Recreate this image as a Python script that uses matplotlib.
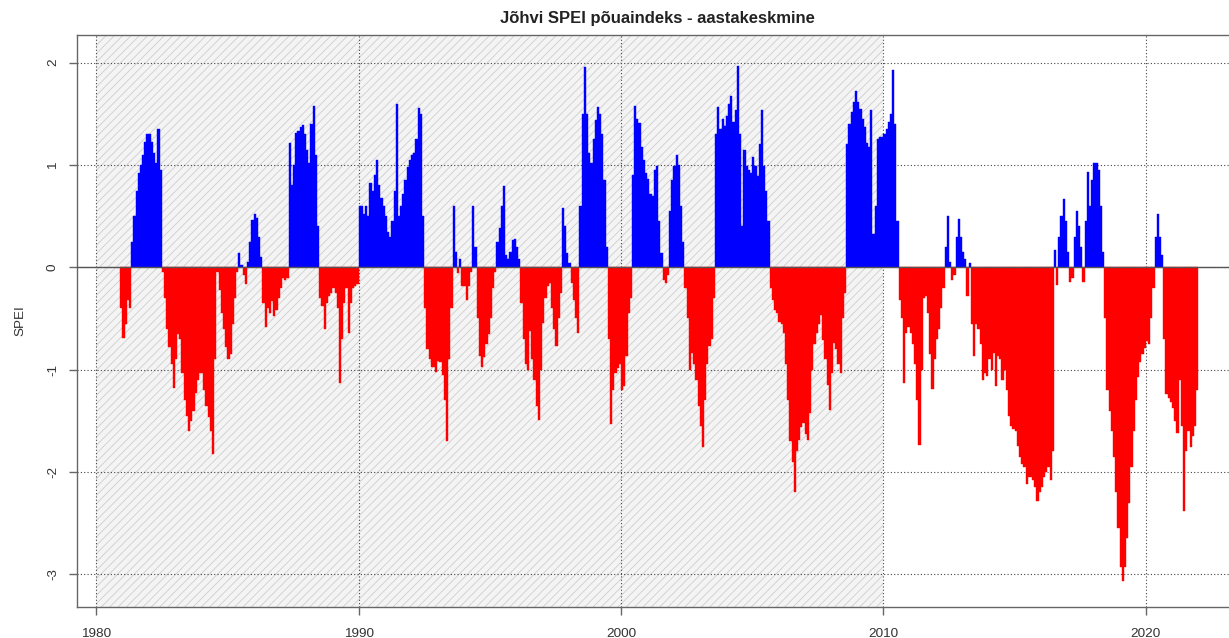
import numpy as np
import matplotlib
matplotlib.use("Agg")
import matplotlib.pyplot as plt

# ---- data (monthly 12-month SPEI, first value = Dec 1980) ----
start_year = 1980 + 11 / 12
spei_1980s = [
    -0.40,
    -0.69, -0.55, -0.32, -0.40, 0.25, 0.50, 0.75, 0.92, 1.00, 1.10, 1.22, 1.30,
    1.30, 1.22, 1.12, 1.02, 1.35, 0.95, -0.05, -0.30, -0.60, -0.78, -0.95, -1.18,
    -0.90, -0.65, -0.70, -1.03, -1.30, -1.45, -1.60, -1.50, -1.40, -1.23, -1.10, -1.03,
    -1.03, -1.20, -1.36, -1.46, -1.60, -1.82, -0.90, -0.05, -0.22, -0.45, -0.60, -0.78,
    -0.90, -0.85, -0.55, -0.30, -0.05, 0.14, 0.02, -0.08, -0.16, 0.05, 0.25, 0.46,
    0.52, 0.48, 0.30, 0.10, -0.35, -0.58, -0.40, -0.45, -0.33, -0.48, -0.42, -0.30,
    -0.20, -0.10, -0.12, -0.10, 1.21, 0.80, 1.00, 1.31, 1.33, 1.37, 1.39, 1.30,
    1.15, 1.02, 1.40, 1.58, 1.10, 0.40, -0.30, -0.38, -0.60, -0.35, -0.28, -0.25,
    -0.20, -0.25, -0.40, -1.13, -0.70, -0.35, -0.20, -0.64, -0.35, -0.20, -0.18, -0.16,
]
spei_1990s = [
    0.60, 0.60, 0.52, 0.60, 0.50, 0.82, 0.75, 0.90, 1.05, 0.80, 0.68, 0.60,
    0.50, 0.34, 0.30, 0.45, 0.75, 1.60, 0.50, 0.60, 0.72, 0.85, 0.98, 1.05,
    1.10, 1.12, 1.25, 1.56, 1.50, 0.50, -0.40, -0.80, -0.90, -0.97, -0.97, -1.02,
    -0.92, -0.93, -1.05, -1.30, -1.70, -0.90, -0.40, 0.60, 0.15, -0.06, 0.08, -0.18,
    -0.18, -0.32, -0.18, -0.05, 0.60, 0.20, -0.50, -0.87, -0.97, -0.88, -0.75, -0.65,
    -0.50, -0.20, -0.05, 0.25, 0.38, 0.60, 0.79, 0.12, 0.08, 0.15, 0.27, 0.28,
    0.20, 0.08, -0.35, -0.70, -0.95, -1.00, -0.62, -0.90, -1.10, -1.36, -1.49, -1.00,
    -0.54, -0.30, -0.18, -0.15, -0.40, -0.60, -0.77, -0.50, -0.25, 0.58, 0.40, 0.14,
    0.04, -0.15, -0.32, -0.50, -0.64, 0.60, 1.50, 1.96, 1.50, 1.12, 1.02, 1.25,
    1.44, 1.57, 1.50, 1.30, 0.85, 0.20, -0.70, -1.53, -1.20, -1.03, -0.98, -0.95,
]
spei_2000s = [
    -1.20, -1.16, -0.87, -0.45, -0.30, 0.90, 1.58, 1.45, 1.41, 1.18, 1.05, 0.92,
    0.86, 0.72, 0.70, 0.95, 0.99, 0.45, 0.14, -0.12, -0.15, -0.08, 0.55, 0.85,
    0.99, 1.10, 1.00, 0.60, 0.25, -0.20, -0.50, -1.00, -0.84, -0.95, -1.10, -1.36,
    -1.55, -1.76, -1.30, -0.95, -0.77, -0.70, -0.30, 1.30, 1.57, 1.35, 1.45, 1.38,
    1.48, 1.60, 1.67, 1.42, 1.54, 1.97, 1.30, 0.40, 1.15, 0.99, 0.95, 0.92,
    1.08, 0.99, 0.89, 1.20, 1.54, 0.99, 0.75, 0.45, -0.20, -0.32, -0.42, -0.45,
    -0.53, -0.55, -0.64, -0.95, -1.30, -1.70, -1.90, -2.20, -1.80, -1.69, -1.56, -1.52,
    -1.63, -1.69, -1.42, -1.00, -0.75, -0.64, -0.55, -0.47, -0.71, -0.90, -1.15, -1.39,
    -1.03, -0.74, -0.80, -0.95, -1.03, -0.50, -0.25, 1.20, 1.40, 1.52, 1.62, 1.72,
    1.62, 1.55, 1.45, 1.37, 1.21, 1.18, 1.54, 0.33, 0.60, 1.25, 1.27, 1.27,
]
spei_2010s = [
    1.30, 1.35, 1.42, 1.50, 1.93, 1.40, 0.45, -0.32, -0.50, -1.13, -0.64, -0.58,
    -0.64, -0.75, -0.95, -1.30, -1.74, -1.00, -0.30, -0.28, -0.45, -0.85, -1.19, -0.90,
    -0.70, -0.60, -0.40, -0.20, 0.20, 0.50, 0.05, -0.12, -0.08, 0.30, 0.47, 0.30,
    0.15, 0.08, -0.28, 0.04, -0.55, -0.87, -0.55, -0.60, -0.75, -1.10, -1.03, -1.06,
    -0.90, -1.00, -0.84, -1.16, -0.87, -0.90, -1.10, -1.00, -1.20, -1.45, -1.55, -1.58,
    -1.60, -1.75, -1.85, -1.92, -1.95, -2.12, -2.05, -2.05, -2.08, -2.15, -2.28, -2.20,
    -2.15, -2.05, -2.00, -1.95, -2.08, -1.80, 0.17, -0.17, 0.30, 0.50, 0.67, 0.45,
    0.15, -0.14, -0.10, 0.30, 0.55, 0.40, 0.20, -0.14, 0.45, 0.93, 0.60, 0.85,
    1.02, 1.02, 0.95, 0.60, 0.15, -0.50, -1.20, -1.40, -1.60, -1.85, -2.20, -2.55,
    -2.93, -3.07, -2.93, -2.65, -2.30, -1.95, -1.60, -1.30, -1.07, -0.93, -0.85, -0.79,
]
spei_2020s = [
    -0.72, -0.75, -0.50, -0.20, 0.30, 0.52, 0.30, 0.12, -0.70, -1.24, -1.28, -1.32,
    -1.38, -1.50, -1.62, -1.10, -1.55, -2.38, -1.80, -1.60, -1.76, -1.65, -1.55, -1.20,
]
x_ticks = [1980, 1990, 2000, 2010, 2020]
y_ticks = [-3, -2, -1, 0, 1, 2]
ref_period = (1980, 2010)
title = "Jõhvi SPEI põuaindeks - aastakeskmine"
ylabel = "SPEI"

values = np.array(spei_1980s + spei_1990s + spei_2000s + spei_2010s + spei_2020s)
t = start_year + np.arange(len(values)) / 12.0
colors = np.where(values > 0, "#0000FF", "#FF0000")

plt.rcParams["font.family"] = ["Liberation Sans", "DejaVu Sans"]
plt.rcParams["hatch.linewidth"] = 0.6

W, H = 1229, 638
fig = plt.figure(figsize=(W / 100, H / 100), dpi=100)
ax = fig.add_axes([77 / W, 1 - 607 / H, (1235 - 77) / W, (607 - 35) / H])

ax.axvspan(ref_period[0], ref_period[1], facecolor="#f4f4f4", edgecolor="#cdcdcd",
           hatch="////", linewidth=0, zorder=0.1)

ax.bar(t, values, width=1 / 12, align="edge", color=colors, edgecolor=colors,
       linewidth=0.3, zorder=2)
ax.axhline(0, color="#555555", linewidth=1.0, zorder=3)

ax.set_xlim(1979.27, 2023.4)
ax.set_ylim(-3.32, 2.27)
ax.set_xticks(x_ticks)
ax.set_yticks(y_ticks)
ax.set_yticklabels([str(v) for v in y_ticks], rotation=90, va="center")
ax.grid(True, color="#444444", linestyle=(0, (1, 2)), linewidth=0.8)
ax.set_axisbelow(True)

for s in ax.spines.values():
    s.set_color("#666666")
    s.set_linewidth(1.0)
ax.tick_params(axis="both", colors="#666666", labelcolor="#333333",
               labelsize=9.7, length=6, width=1.0)
ax.tick_params(axis="x", pad=9)
ax.tick_params(axis="y", pad=7)

fig.text(20 / W, 1 - 321 / H, ylabel, rotation=90, ha="center", va="center",
         fontsize=9.7, color="#333333")
fig.text(657 / W, 1 - 18 / H, title, ha="center", va="center",
         fontsize=12, fontweight="bold", color="#222222")

fig.savefig("out.png", dpi=100)
